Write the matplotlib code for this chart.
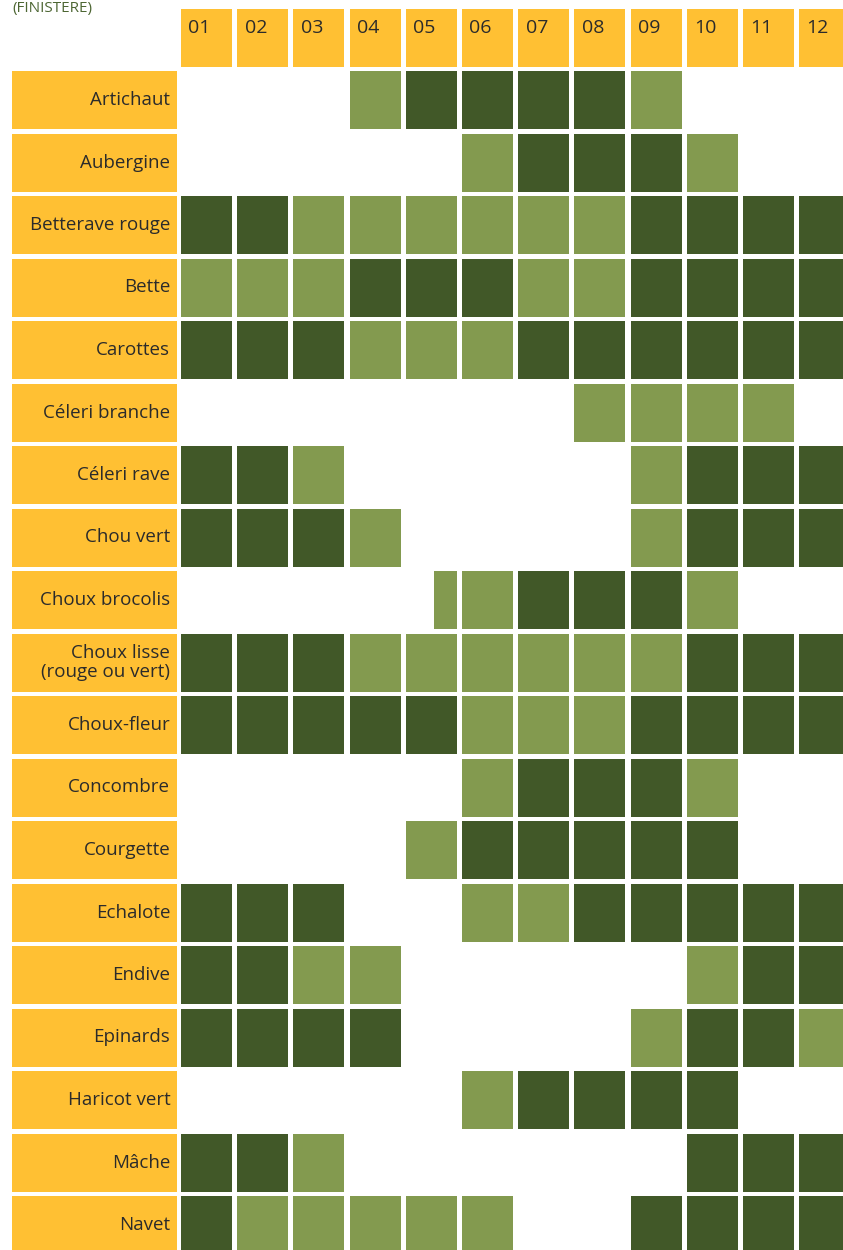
import matplotlib
matplotlib.use("Agg")
import matplotlib.pyplot as plt
from matplotlib.patches import Rectangle
from matplotlib import font_manager

# 0 = rien, 1 = clair, 2 = foncé, 3 = clair (2e quinzaine seulement)
months = ["01", "02", "03", "04", "05", "06", "07", "08", "09", "10", "11", "12"]
vegetables = [
    "Artichaut", "Aubergine", "Betterave rouge", "Bette", "Carottes",
    "Céleri branche", "Céleri rave", "Chou vert", "Choux brocolis",
    "Choux lisse\n(rouge ou vert)", "Choux-fleur", "Concombre", "Courgette",
    "Echalote", "Endive", "Epinards", "Haricot vert", "Mâche", "Navet",
]
seasons = [
    [0, 0, 0, 1, 2, 2, 2, 2, 1, 0, 0, 0],
    [0, 0, 0, 0, 0, 1, 2, 2, 2, 1, 0, 0],
    [2, 2, 1, 1, 1, 1, 1, 1, 2, 2, 2, 2],
    [1, 1, 1, 2, 2, 2, 1, 1, 2, 2, 2, 2],
    [2, 2, 2, 1, 1, 1, 2, 2, 2, 2, 2, 2],
    [0, 0, 0, 0, 0, 0, 0, 1, 1, 1, 1, 0],
    [2, 2, 1, 0, 0, 0, 0, 0, 1, 2, 2, 2],
    [2, 2, 2, 1, 0, 0, 0, 0, 1, 2, 2, 2],
    [0, 0, 0, 0, 3, 1, 2, 2, 2, 1, 0, 0],
    [2, 2, 2, 1, 1, 1, 1, 1, 1, 2, 2, 2],
    [2, 2, 2, 2, 2, 1, 1, 1, 2, 2, 2, 2],
    [0, 0, 0, 0, 0, 1, 2, 2, 2, 1, 0, 0],
    [0, 0, 0, 0, 1, 2, 2, 2, 2, 2, 0, 0],
    [2, 2, 2, 0, 0, 1, 1, 2, 2, 2, 2, 2],
    [2, 2, 1, 1, 0, 0, 0, 0, 0, 1, 2, 2],
    [2, 2, 2, 2, 0, 0, 0, 0, 1, 2, 2, 1],
    [0, 0, 0, 0, 0, 1, 2, 2, 2, 2, 0, 0],
    [2, 2, 1, 0, 0, 0, 0, 0, 0, 2, 2, 2],
    [2, 1, 1, 1, 1, 1, 0, 0, 2, 2, 2, 2],
]

ORANGE = "#FFC033"
LIGHT = "#839A4F"
DARK = "#415828"
TEXT = "#2b2b2b"

avail = {f.name for f in font_manager.fontManager.ttflist}
fam = [f for f in ["Liberation Sans Narrow", "Open Sans", "DejaVu Sans"] if f in avail]
plt.rcParams["font.family"] = fam

fig = plt.figure(figsize=(8.43, 12.5), dpi=100)
ax = fig.add_axes([0, 0, 1, 1])
ax.set_xlim(-3.221, 11.779)
ax.set_ylim(18.864, -1.136)
ax.axis("off")

cw, rh = 0.907, 0.928

# en-tête des mois
for i, m in enumerate(months):
    ax.add_patch(Rectangle((i, -1), cw, rh, color=ORANGE, lw=0))
    ax.text(i + 0.13, -1 + 0.31, m, fontsize=14, color=TEXT, va="center", ha="left")

for j, (name, row) in enumerate(zip(vegetables, seasons)):
    ax.add_patch(Rectangle((-3.007, j), 2.936, rh, color=ORANGE, lw=0))
    ax.text(-0.19, j + rh / 2, name, fontsize=13.5, color=TEXT, ha="right",
            va="center", linespacing=1.1)
    for i, v in enumerate(row):
        if v == 1:
            ax.add_patch(Rectangle((i, j), cw, rh, color=LIGHT, lw=0))
        elif v == 2:
            ax.add_patch(Rectangle((i, j), cw, rh, color=DARK, lw=0))
        elif v == 3:
            ax.add_patch(Rectangle((i + 0.5, j), cw - 0.5, rh, color=LIGHT, lw=0))

ax.text(-3.007, -1.0, "(FINISTERE)", fontsize=11, color="#4d6633",
        ha="left", va="center")

fig.savefig("out.png", dpi=100)
